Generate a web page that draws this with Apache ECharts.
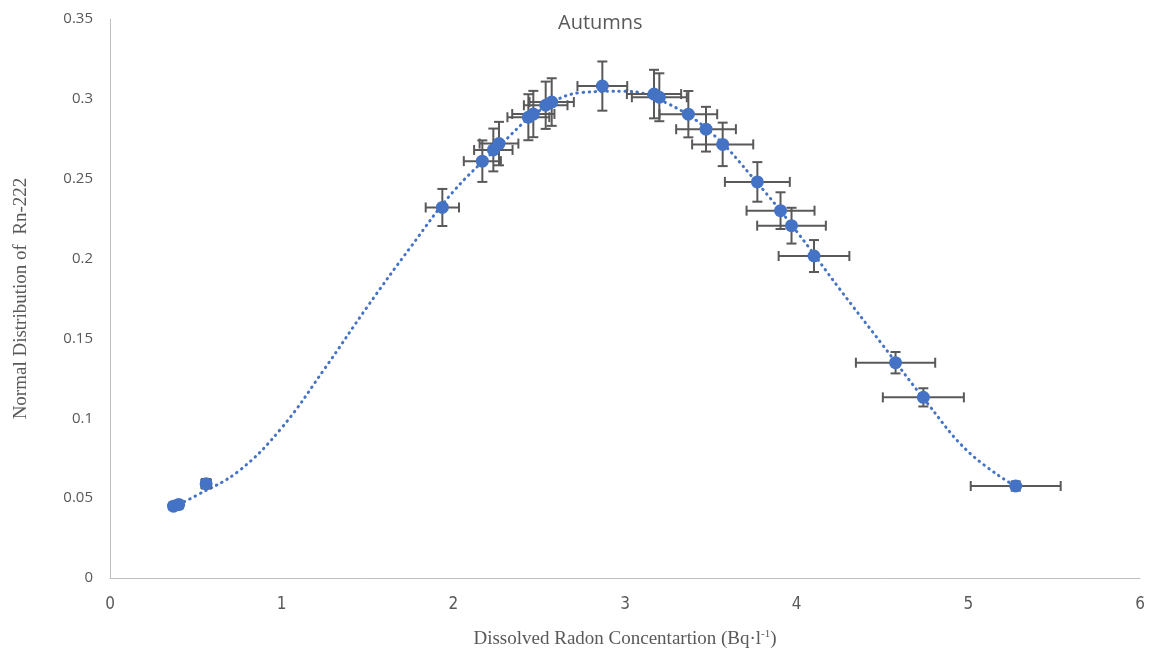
<!DOCTYPE html>
<html><head><meta charset="utf-8">
<script src="https://cdn.jsdelivr.net/npm/echarts@6/dist/echarts.min.js"></script>
<style>html,body{margin:0;padding:0;background:#fff}#c{width:1155px;height:655px}</style>
</head><body><div id="c"></div>
<script>
// measured points
var xs = [0.37,0.40,0.56,1.936,2.169,2.233,2.266,2.437,2.466,2.538,2.573,2.868,3.169,3.200,3.369,3.472,3.569,3.771,3.906,3.970,4.101,4.576,4.738,5.276];
var ys = [0.045,0.046,0.059,0.232,0.261,0.268,0.272,0.2885,0.2905,0.296,0.298,0.308,0.303,0.301,0.2904,0.281,0.2715,0.248,0.230,0.2206,0.2016,0.1348,0.1131,0.0576];
var xErr = [0.018,0.020,0.028,0.097,0.108,0.112,0.113,0.122,0.123,0.127,0.129,0.145,0.158,0.160,0.168,0.174,0.178,0.189,0.198,0.200,0.206,0.231,0.236,0.262];
var yErr = [0.0022,0.0023,0.003,0.0116,0.013,0.0134,0.0136,0.0144,0.0145,0.0148,0.0149,0.0154,0.0152,0.015,0.0145,0.014,0.0136,0.0124,0.0115,0.0112,0.010,0.0067,0.0057,0.0029];
// fitted curve
var curveX = [0.37,0.50,0.75,1.00,1.25,1.50,1.75,2.00,2.25,2.50,2.75,3.00,3.25,3.50,3.75,4.00,4.25,4.50,4.75,5.00,5.27];
var curveY = [0.0445,0.0515,0.067,0.094,0.131,0.170,0.207,0.242,0.2685,0.2925,0.304,0.3048,0.297,0.279,0.250,0.217,0.181,0.146,0.111,0.079,0.0576];
var xTicks = [0,1,2,3,4,5,6];
var yTicks = [0,0.05,0.1,0.15,0.2,0.25,0.3,0.35];

var pts = xs.map(function(x,i){return [x, ys[i]];});
var errData = xs.map(function(x,i){return [x, ys[i], xErr[i], yErr[i]];});
var curve = curveX.map(function(x,i){return [x, curveY[i]];});

var chart = echarts.init(document.getElementById('c'));
var grey = '#595959';
chart.setOption({
  animation:false,
  title:{text:'Autumns', left:553, top:8, textStyle:{fontFamily:'Open Sans', fontSize:20, fontWeight:'normal', color:grey}},
  grid:{left:110, right:15, top:19, bottom:77},
  xAxis:{type:'value', min:0, max:6, interval:1,
    axisLine:{show:true, lineStyle:{color:'#bfbfbf', width:1}}, axisTick:{show:false}, splitLine:{show:false},
    axisLabel:{margin:18, fontFamily:'DejaVu Sans Condensed', fontSize:17, color:grey,
      formatter:function(v){return xTicks.indexOf(v)>=0?String(v):'';}},
    name:'{a|Dissolved Radon Concentartion (Bq·l}{s|-1}{a|)}', nameLocation:'middle', nameGap:50,
    nameTextStyle:{rich:{a:{fontFamily:'Liberation Serif', fontSize:19, color:grey, lineHeight:22},
                         s:{fontFamily:'Liberation Serif', fontSize:11, color:grey, lineHeight:22, padding:[0,0,10,0]}}}
  },
  yAxis:{type:'value', min:0, max:0.35, interval:0.05,
    axisLine:{show:true, lineStyle:{color:'#bfbfbf', width:1}}, axisTick:{show:false}, splitLine:{show:false},
    axisLabel:{margin:17, fontFamily:'Open Sans', fontSize:15, color:grey,
      formatter:function(v){var r=Math.round(v*100)/100; return String(r);}},
    name:'Normal Distribution of  Rn-222', nameLocation:'middle', nameGap:79,
    nameTextStyle:{fontFamily:'Liberation Serif', fontSize:19, color:grey}
  },
  series:[
    {type:'line', data:curve, smooth:0.4, symbol:'none', z:2,
      lineStyle:{color:'#4472C4', width:3, type:[0.5,5.5], cap:'round'}},
    {type:'custom', z:3, data:errData, renderItem:function(params, api){
      var x=api.value(0), y=api.value(1), ex=api.value(2), ey=api.value(3);
      var l=api.coord([x-ex,y]), r=api.coord([x+ex,y]), t=api.coord([x,y+ey]), b=api.coord([x,y-ey]);
      var c=5, st={stroke:grey, lineWidth:2};
      return {type:'group', children:[
        {type:'line', shape:{x1:l[0],y1:l[1],x2:r[0],y2:r[1]}, style:st},
        {type:'line', shape:{x1:l[0],y1:l[1]-c,x2:l[0],y2:l[1]+c}, style:st},
        {type:'line', shape:{x1:r[0],y1:r[1]-c,x2:r[0],y2:r[1]+c}, style:st},
        {type:'line', shape:{x1:t[0],y1:t[1],x2:b[0],y2:b[1]}, style:st},
        {type:'line', shape:{x1:t[0]-c,y1:t[1],x2:t[0]+c,y2:t[1]}, style:st},
        {type:'line', shape:{x1:b[0]-c,y1:b[1],x2:b[0]+c,y2:b[1]}, style:st}
      ]};
    }},
    {type:'scatter', data:pts, z:4, symbol:'circle', symbolSize:13, itemStyle:{color:'#4472C4', opacity:1}}
  ]
});
</script></body></html>
